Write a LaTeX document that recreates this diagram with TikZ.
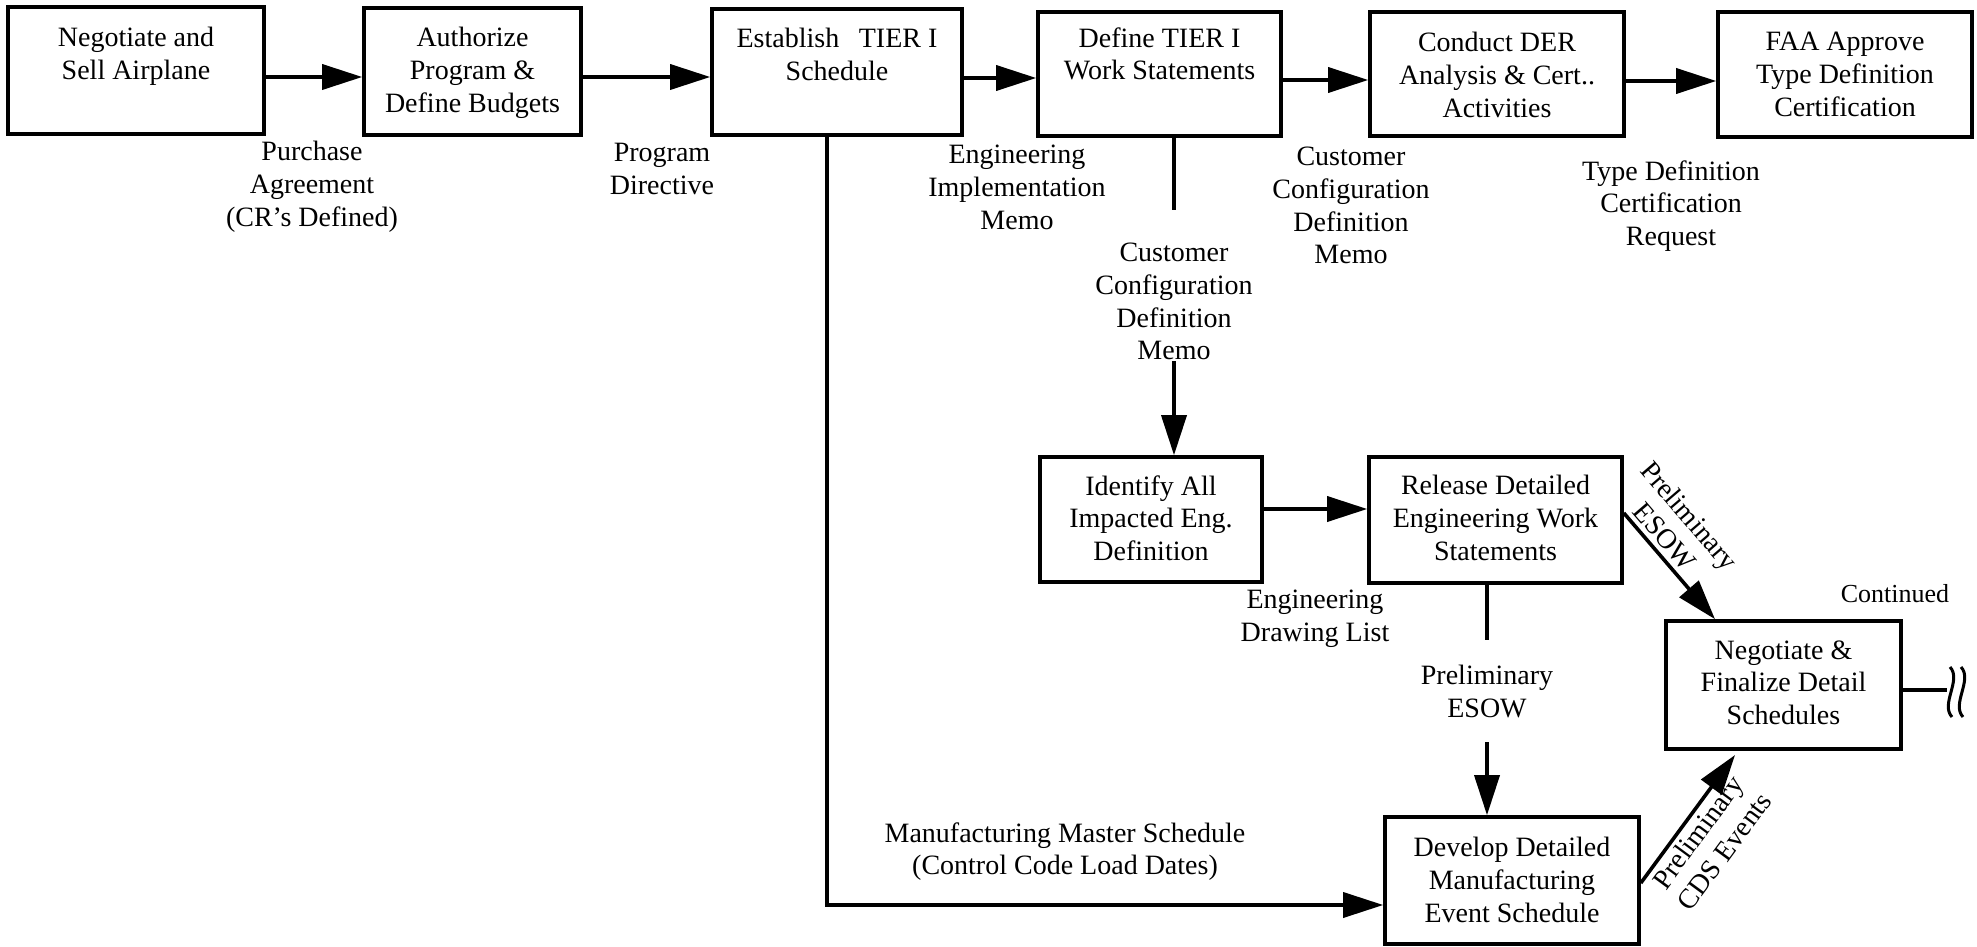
\documentclass[tikz,border=0pt]{standalone}
\usepackage{fontspec}
\setmainfont{Liberation Serif}
\usetikzlibrary{arrows.meta}

\begin{document}
\begin{tikzpicture}[x=0.5pt,y=-0.5pt,
  font=\fontsize{14}{16.3}\selectfont,
  stepbox/.style={draw, rectangle, inner sep=0pt, line width=1.8pt},
  boxtext/.style={anchor=north, align=center, inner sep=0pt},
  flowlabel/.style={anchor=north, align=center, inner sep=0pt},
  flow/.style={-{Triangle[length=20pt,width=12.5pt]}, line width=1.8pt},
  plain/.style={line width=1.8pt},
  slopedlabel/.style={align=center, sloped, inner sep=2pt},
]
\useasboundingbox (0,0) rectangle (1977,947);

% process boxes
\node[stepbox, minimum width=128pt,   minimum height=63.5pt] (b1)  at (136,70.5)   {};
\node[stepbox, minimum width=108.5pt, minimum height=63.5pt] (b2)  at (472.5,71.5) {};
\node[stepbox, minimum width=125pt,   minimum height=63pt]   (b3)  at (837,72)     {};
\node[stepbox, minimum width=121.5pt, minimum height=62pt]   (b4)  at (1159.5,74)  {};
\node[stepbox, minimum width=127pt,   minimum height=62pt]   (b5)  at (1497,74)    {};
\node[stepbox, minimum width=127pt,   minimum height=62.5pt] (b6)  at (1845,74.5)  {};
\node[stepbox, minimum width=111pt,   minimum height=62.5pt] (b7)  at (1151,519.5) {};
\node[stepbox, minimum width=126.5pt, minimum height=63pt]   (b8)  at (1495.5,520) {};
\node[stepbox, minimum width=127pt,   minimum height=63.5pt] (b9)  at (1512,880.5) {};
\node[stepbox, minimum width=117.5pt, minimum height=64pt]   (b10) at (1783.5,685) {};

% box captions
\node[boxtext] (t1)  at (136,27)     {Negotiate and\\Sell Airplane};
\node[boxtext] (t2)  at (472.5,27)   {Authorize\\Program \&\\Define Budgets};
\node[boxtext] (t3)  at (837,28)     {Establish\hspace{0.45em} TIER I\\Schedule};
\node[boxtext] (t4)  at (1159.5,27)  {Define TIER I\\Work Statements};
\node[boxtext] (t5)  at (1497,32)    {Conduct DER\\Analysis \& Cert..\\Activities};
\node[boxtext] (t6)  at (1845,32)    {FAA Approve\\Type Definition\\Certification};
\node[boxtext] (t7)  at (1151,475)   {Identify All\\Impacted Eng.\\Definition};
\node[boxtext] (t8)  at (1495.5,475) {Release Detailed\\Engineering Work\\Statements};
\node[boxtext] (t9)  at (1512,837)   {Develop Detailed\\Manufacturing\\Event Schedule};
\node[boxtext] (t10) at (1783.5,640) {Negotiate \&\\Finalize Detail\\Schedules};

% flow labels
\node[flowlabel] (l1) at (312,141)   {Purchase\\Agreement\\(CR’s Defined)};
\node[flowlabel] (l2) at (662,143)   {Program\\Directive};
\node[flowlabel] (l3) at (1017,145)  {Engineering\\Implementation\\Memo};
\node[flowlabel] (l4) at (1351,147)  {Customer\\Configuration\\Definition\\Memo};
\node[flowlabel] (l5) at (1671,160)  {Type Definition\\Certification\\Request};
\node[flowlabel] (l6) at (1174,243)  {Customer\\Configuration\\Definition\\Memo};
\node[flowlabel] (l7) at (1315,590)  {Engineering\\Drawing List};
\node[flowlabel] (l8) at (1487,665)  {Preliminary\\ESOW};
\node[flowlabel] (l9) at (1065,822)  {Manufacturing Master Schedule\\(Control Code Load Dates)};
\node[flowlabel, font=\fontsize{13}{15}\selectfont] (l10) at (1895,584) {Continued};

% free ends of the split connectors
\coordinate (c4) at (1174,210);
\coordinate (c6) at (1174,361);
\coordinate (c8a) at (1487,640);
\coordinate (c8b) at (1487,742);
\coordinate (corner) at (827,905);
\coordinate (cdstip) at (1735,755);
\coordinate (brk) at (1947,690);

% main row
\draw[flow] (b1.east |- 0,77) -- (b2.west |- 0,77);
\draw[flow] (b2.east |- 0,77) -- (b3.west |- 0,77);
\draw[flow] (b3.east |- 0,78) -- (b4.west |- 0,78);
\draw[flow] (b4.east |- 0,80) -- (b5.west |- 0,80);
\draw[flow] (b5.east |- 0,81) -- (b6.west |- 0,81);

% master schedule feed
\draw[flow] (b3.south -| corner) -- (corner) -- (b9.west |- corner);

% configuration memo branch
\draw[plain] (b4.south -| c4) -- (c4);
\draw[flow] (c6) -- (b7.north -| c6);
\draw[flow] (b7.east |- 0,509) -- (b8.west |- 0,509);

% preliminary ESOW branch
\draw[plain] (b8.south -| c8a) -- (c8a);
\draw[flow] (c8b) -- (b9.north -| c8b);
\draw[flow] (b8.east |- 0,513) -- (b10.north -| 1715,0)
  node[slopedlabel, above, pos=0.32] {Preliminary\\ESOW};
\draw[flow] (b9.east |- 0,883) -- (cdstip)
  node[slopedlabel, below, pos=0.47] {Preliminary\\CDS Events};

% continuation
\draw[plain] (b10.east |- brk) -- (brk);
\draw[line width=1.5pt] (1950,667) .. controls (1962,680) and (1940,704) .. (1952,717);
\draw[line width=1.5pt] (1961,667) .. controls (1973,680) and (1951,704) .. (1963,717);
\end{tikzpicture}
\end{document}
